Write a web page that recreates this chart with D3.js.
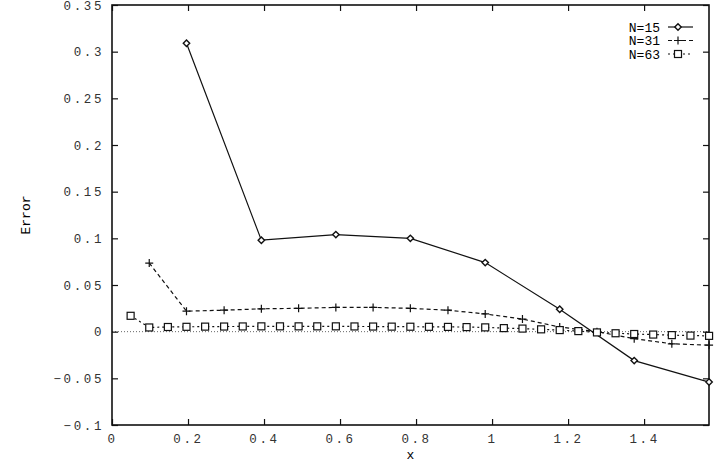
<!DOCTYPE html>
<html>
<head>
<meta charset="utf-8">
<script src="https://cdn.jsdelivr.net/npm/d3@7"></script>
<style>
  body { margin: 0; background: #fff; }
  svg text { font-family: "Liberation Mono", "DejaVu Sans Mono", monospace; }
</style>
</head>
<body>
<div id="chart"></div>
<script>
// values
const xN15 = [0.196, 0.393, 0.589, 0.785, 0.982, 1.178, 1.374, 1.571];
const yN15 = [0.309, 0.098, 0.104, 0.100, 0.074, 0.024, -0.031, -0.054];

const xN31 = [0.098, 0.196, 0.295, 0.393, 0.491, 0.589, 0.687, 0.785,
              0.884, 0.982, 1.080, 1.178, 1.276, 1.374, 1.473, 1.571];
const yN31 = [0.0735, 0.022, 0.023, 0.0245, 0.025, 0.026, 0.026, 0.025,
              0.023, 0.019, 0.0135, 0.005, 0.0, -0.0075, -0.013, -0.0145];

const xN63 = [0.049, 0.098, 0.147, 0.196, 0.245, 0.295, 0.344, 0.393,
              0.442, 0.491, 0.540, 0.589, 0.638, 0.687, 0.736, 0.785,
              0.834, 0.884, 0.933, 0.982, 1.031, 1.080, 1.129, 1.178,
              1.227, 1.276, 1.325, 1.374, 1.424, 1.473, 1.522, 1.571];
const yN63 = [0.017, 0.0045, 0.005, 0.0052, 0.0054, 0.0055, 0.0056, 0.0057,
              0.0057, 0.0057, 0.0057, 0.0057, 0.0056, 0.0055, 0.0054, 0.0053,
              0.0052, 0.0051, 0.0049, 0.0046, 0.0038, 0.0033, 0.0025, 0.0017,
              0.0006, -0.0008, -0.0017, -0.0025, -0.0031, -0.0037, -0.0042, -0.0045];

const seriesNames = ["N=15", "N=31", "N=63"];
const xTicks = [0, 0.2, 0.4, 0.6, 0.8, 1, 1.2, 1.4];
const yTicks = [-0.1, -0.05, 0, 0.05, 0.1, 0.15, 0.2, 0.25, 0.3, 0.35];
const xDomain = [0, 1.5708];
const yDomain = [-0.1, 0.35];

const W = 719, H = 470;
const margin = { top: 5, right: 10, bottom: 45, left: 112 };
const width = W - margin.left - margin.right;
const height = H - margin.top - margin.bottom;

const svg = d3.select("#chart").append("svg")
    .attr("width", W)
    .attr("height", H);

const g = svg.append("g")
    .attr("transform", "translate(" + margin.left + "," + margin.top + ")");

const x = d3.scaleLinear().domain(xDomain).range([0, width]);
const y = d3.scaleLinear().domain(yDomain).range([height, 0]);

// zero line
g.append("line")
    .attr("x1", 0).attr("x2", width)
    .attr("y1", y(0)).attr("y2", y(0))
    .attr("stroke", "#555")
    .attr("stroke-width", 0.9)
    .attr("stroke-dasharray", "1,2");

function styleAxis(sel, labels) {
    sel.select(".domain").remove();
    sel.selectAll(".tick line").attr("stroke", "#111").attr("stroke-width", 1.2);
    if (labels) {
        sel.selectAll(".tick text")
            .attr("fill", "#333")
            .style("font-size", "12.5px")
            .style("letter-spacing", "2.6px");
    } else {
        sel.selectAll(".tick text").remove();
    }
}

// axes, ticks pointing inward
g.append("g")
    .attr("transform", "translate(0," + height + ")")
    .call(d3.axisBottom(x).tickValues(xTicks).tickSize(-6).tickPadding(9).tickFormat(d3.format("~g")))
    .call(s => styleAxis(s, true));

g.append("g")
    .call(d3.axisTop(x).tickValues(xTicks).tickSize(-6))
    .call(s => styleAxis(s, false));

g.append("g")
    .call(d3.axisLeft(y).tickValues(yTicks).tickSize(-6).tickPadding(8).tickFormat(d3.format("~g")))
    .call(s => styleAxis(s, true));

g.append("g")
    .attr("transform", "translate(" + width + ",0)")
    .call(d3.axisRight(y).tickValues(yTicks).tickSize(-6))
    .call(s => styleAxis(s, false));

// frame
g.append("rect")
    .attr("width", width).attr("height", height)
    .attr("fill", "none")
    .attr("stroke", "#111")
    .attr("stroke-width", 1.6);

// axis labels
g.append("text")
    .attr("x", width / 2).attr("y", height + 34)
    .attr("text-anchor", "middle")
    .style("font-size", "13px")
    .text("x");

svg.append("text")
    .attr("transform", "translate(30," + (margin.top + height / 2) + ") rotate(-90)")
    .attr("text-anchor", "middle")
    .style("font-size", "13px")
    .text("Error");

// series
const series = [
    { name: seriesNames[0], xs: xN15, ys: yN15, dash: null, marker: "diamond" },
    { name: seriesNames[1], xs: xN31, ys: yN31, dash: "4,3", marker: "plus" },
    { name: seriesNames[2], xs: xN63, ys: yN63, dash: "2,3", marker: "square" }
];
series.forEach(s => { s.points = s.xs.map((v, i) => [v, s.ys[i]]); });

const line = d3.line().x(d => x(d[0])).y(d => y(d[1]));

function drawMarker(sel, type) {
    if (type === "diamond") {
        sel.append("path")
            .attr("d", "M0,-3.2L3.2,0L0,3.2L-3.2,0Z")
            .attr("fill", "#fff").attr("stroke", "#111").attr("stroke-width", 1.4);
    } else if (type === "plus") {
        sel.append("path")
            .attr("d", "M-4,0H4M0,-4V4")
            .attr("stroke", "#111").attr("stroke-width", 1.2);
    } else {
        sel.append("rect")
            .attr("x", -3.5).attr("y", -3.5).attr("width", 7).attr("height", 7)
            .attr("fill", "#fff").attr("stroke", "#111").attr("stroke-width", 1.2);
    }
}

series.forEach(s => {
    g.append("path")
        .datum(s.points)
        .attr("d", line)
        .attr("fill", "none")
        .attr("stroke", "#111")
        .attr("stroke-width", 1.2)
        .attr("stroke-dasharray", s.dash);

    g.selectAll(null)
        .data(s.points)
        .enter().append("g")
        .attr("transform", d => "translate(" + x(d[0]) + "," + y(d[1]) + ")")
        .each(function () { drawMarker(d3.select(this), s.marker); });
});

// legend
const legend = g.append("g")
    .attr("transform", "translate(" + (width - 49) + ",22)");

const rows = legend.selectAll("g")
    .data(series)
    .enter().append("g")
    .attr("transform", (d, i) => "translate(0," + i * 13.5 + ")");

rows.append("text")
    .attr("x", 0).attr("y", 0)
    .attr("dy", "0.35em")
    .attr("text-anchor", "end")
    .style("font-size", "13px")
    .text(d => d.name);

rows.append("line")
    .attr("x1", 8).attr("x2", 33)
    .attr("stroke", "#111")
    .attr("stroke-width", 1.2)
    .attr("stroke-dasharray", d => d.dash);

rows.append("g")
    .attr("transform", "translate(18,0)")
    .each(function (d) { drawMarker(d3.select(this), d.marker); });
</script>
</body>
</html>
